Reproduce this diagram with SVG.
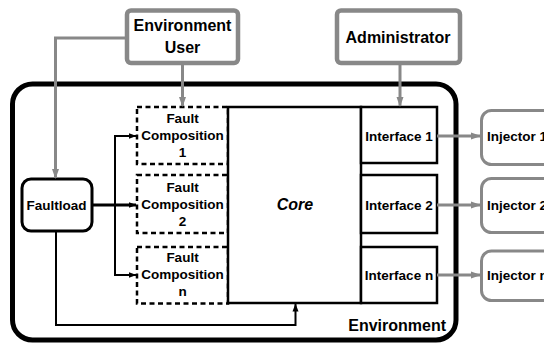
<svg xmlns="http://www.w3.org/2000/svg" width="544" height="345" viewBox="0 0 544 345">
<defs>
<style>
text{font-family:"Liberation Sans",Arial,Helvetica,sans-serif;font-weight:bold;fill:#000;text-anchor:middle}
.big{font-size:16px}
.mid{font-size:13.5px}
.actor{fill:#fff;stroke:#888;stroke-width:4.5}
.inj{fill:#fff;stroke:#888;stroke-width:3}
.box{fill:#fff;stroke:#000;stroke-width:2.5}
.fc{fill:#fff;stroke:#000;stroke-width:2.5;stroke-dasharray:5 3.5}
.g{fill:none;stroke:#888;stroke-width:3;marker-end:url(#ag)}
.b{fill:none;stroke:#000;stroke-width:2;marker-end:url(#ab)}
</style>
<marker id="ag" markerUnits="userSpaceOnUse" markerWidth="10" markerHeight="8" viewBox="0 0 10 8" refX="9" refY="4" orient="auto"><path d="M0,0.5 L10,4 L0,7.5 z" fill="#888"/></marker>
<marker id="ab" markerUnits="userSpaceOnUse" markerWidth="8" markerHeight="8" viewBox="0 0 8 8" refX="7.5" refY="4" orient="auto"><path d="M0,1 L8,4 L0,7 z" fill="#000"/></marker>
</defs>
<rect width="544" height="345" fill="#fff"/>
<g id="environment">
<rect x="12.5" y="84" width="443.5" height="256" rx="20" fill="none" stroke="#000" stroke-width="5"/>
<text class="big" x="446" y="331" style="text-anchor:end">Environment</text>
</g>
<g id="environment-user">
<rect class="actor" x="127" y="10.5" width="111" height="52.5" rx="4"/>
<text class="big" x="182.5" y="31">Environment</text>
<text class="big" x="182.5" y="53">User</text>
</g>
<g id="administrator">
<rect class="actor" x="337" y="10.5" width="123" height="52.5" rx="4"/>
<text class="big" x="398" y="43">Administrator</text>
</g>
<g id="faultload">
<rect x="22" y="179" width="70" height="52" rx="9" fill="#fff" stroke="#000" stroke-width="3"/>
<text class="mid" x="56.5" y="209.5">Faultload</text>
</g>
<g id="fault-composition-1">
<rect class="fc" x="137" y="107" width="91" height="57"/>
<text class="mid" x="182.5" y="123">Fault</text>
<text class="mid" x="182.5" y="140">Composition</text>
<text class="mid" x="182.5" y="157">1</text>
</g>
<g id="fault-composition-2">
<rect class="fc" x="137" y="175" width="91" height="58"/>
<text class="mid" x="182.5" y="191.5">Fault</text>
<text class="mid" x="182.5" y="208.5">Composition</text>
<text class="mid" x="182.5" y="225.5">2</text>
</g>
<g id="fault-composition-n">
<rect class="fc" x="137" y="247" width="91" height="56.5"/>
<text class="mid" x="182.5" y="261.5">Fault</text>
<text class="mid" x="182.5" y="278.5">Composition</text>
<text class="mid" x="182.5" y="295.5">n</text>
</g>
<g id="core">
<rect class="box" x="228" y="107" width="133" height="196"/>
<text class="big" x="295" y="210" style="font-style:italic">Core</text>
</g>
<g id="interface-1">
<rect class="box" x="361" y="107" width="76" height="56"/>
<text class="mid" x="399" y="140.5">Interface 1</text>
</g>
<g id="interface-2">
<rect class="box" x="361" y="175" width="76" height="58"/>
<text class="mid" x="399" y="209.5">Interface 2</text>
</g>
<g id="interface-n">
<rect class="box" x="361" y="247" width="76" height="56"/>
<text class="mid" x="399" y="279.5">Interface n</text>
</g>
<g id="injector-1">
<rect class="inj" x="481.5" y="110.5" width="80" height="54" rx="10"/>
<text class="mid" x="487" y="141" style="text-anchor:start">Injector 1</text>
</g>
<g id="injector-2">
<rect class="inj" x="481.5" y="178.5" width="80" height="54" rx="10"/>
<text class="mid" x="487" y="209.5" style="text-anchor:start">Injector 2</text>
</g>
<g id="injector-n">
<rect class="inj" x="481.5" y="251" width="80" height="49.5" rx="10"/>
<text class="mid" x="487" y="280" style="text-anchor:start">Injector n</text>
</g>
<g id="connectors">
<path class="g" d="M127,38 H55.5 V178"/>
<path class="g" d="M182.5,63 V106"/>
<path class="g" d="M400,63 V106"/>
<path class="g" d="M437,136 H480"/>
<path class="g" d="M437,205 H480"/>
<path class="g" d="M437,275 H480"/>
<path class="b" d="M92,205 H136" style="stroke-width:3"/>
<path class="b" d="M115,205 V136 H136"/>
<path class="b" d="M115,205 V275 H136"/>
<path class="b" d="M56,231 V325 H295.5 V304"/>
</g>
</svg>
